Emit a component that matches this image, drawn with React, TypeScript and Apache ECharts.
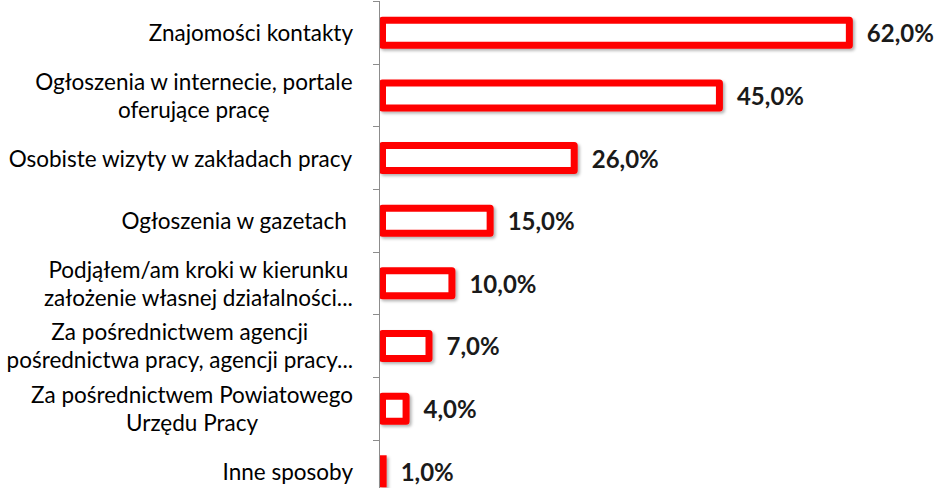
import React, { useEffect, useRef } from "react";
import * as echarts from "echarts";

const categories: string[] = [
  "Znajomości kontakty",
  "Ogłoszenia w internecie, portale\noferujące pracę",
  "Osobiste wizyty w zakładach pracy",
  "Ogłoszenia w gazetach ",
  "Podjąłem/am kroki w kierunku\nzałożenie własnej działalności...",
  "Za pośrednictwem agencji\npośrednictwa pracy, agencji pracy...",
  "Za pośrednictwem Powiatowego\nUrzędu Pracy",
  "Inne sposoby",
];
const values: number[] = [62, 45, 26, 15, 10, 7, 4, 1];

const RED = "#ff0000";

export default function App() {
  const ref = useRef<HTMLDivElement>(null);
  useEffect(() => {
    document.body.style.margin = "0";
    if (!ref.current) return;
    const chart = echarts.init(ref.current, null, { renderer: "svg" });
    // very short bars are fully covered by their thick outline: draw them solid red
    const seriesData = values.map((v) =>
      v < 2 ? { value: v, itemStyle: { color: RED, borderWidth: 0 } } : v
    );
    chart.setOption({
      animation: false,
      backgroundColor: "#ffffff",
      grid: {
        left: 379,
        top: 1.4,
        bottom: -14.6,
        right: 22,
        containLabel: false,
        outerBoundsMode: "none",
      },
      xAxis: {
        type: "value",
        min: 0,
        max: 70,
        show: false,
      },
      yAxis: {
        type: "category",
        data: categories,
        inverse: true,
        offset: 2,
        z: 3,
        axisLine: { show: true, lineStyle: { color: "#8c8c8c", width: 1 } },
        axisTick: { show: true, length: 6, lineStyle: { color: "#8c8c8c" } },
        axisLabel: {
          margin: 24,
          color: "#000",
          formatter: (v: string) =>
            v
              .split("\n")
              .map((l) => `{c|${l}}`)
              .join("\n"),
          rich: {
            c: {
              align: "center",
              fontFamily: "Lato",
              fontSize: 22.5,
              lineHeight: 28,
              color: "#000",
            },
          },
        },
        splitLine: { show: false },
      },
      series: [
        {
          type: "bar",
          data: seriesData,
          barWidth: 32,
          itemStyle: {
            color: "#ffffff",
            borderColor: RED,
            borderWidth: 7,
            borderJoin: "round",
            shadowBlur: 3,
            shadowColor: "rgba(0,0,0,0.3)",
            shadowOffsetX: 2,
            shadowOffsetY: 2,
          },
          label: {
            show: true,
            position: "right",
            distance: 14,
            formatter: (p: any) =>
              `${Number(p.value).toFixed(1).replace(".", ",")}%`,
            fontFamily: "Lato",
            fontWeight: "bold",
            fontSize: 24,
            color: "#1a1a1a",
          },
        },
      ],
    });
    return () => chart.dispose();
  }, []);
  return <div ref={ref} style={{ width: 936, height: 488 }} />;
}
